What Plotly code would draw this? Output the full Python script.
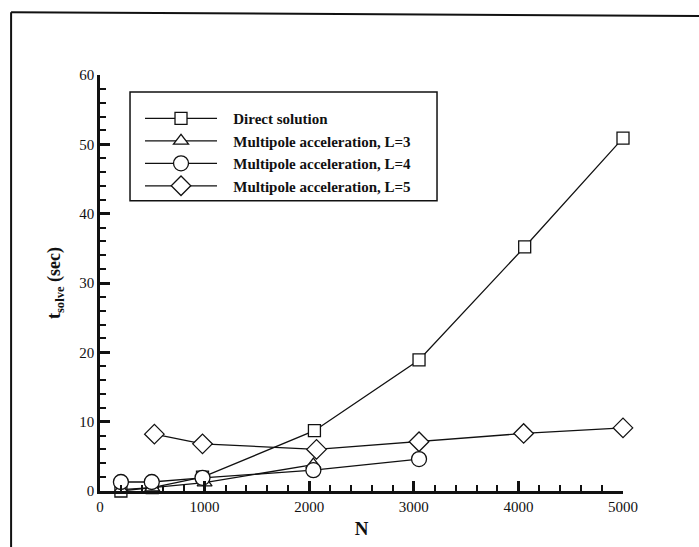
import plotly.graph_objects as go

# Solve time versus problem size N for the direct solver and multipole acceleration
n_direct = [200, 500, 980, 2050, 3050, 4060, 5000]
t_direct = [0.0, 0.5, 2.0, 8.7, 18.9, 35.2, 50.9]

n_l3 = [200, 500, 1000, 2040]
t_l3 = [0.2, 0.5, 1.2, 3.8]

n_l4 = [200, 495, 980, 2040, 3050]
t_l4 = [1.3, 1.3, 1.9, 3.0, 4.6]

n_l5 = [520, 980, 2070, 3050, 4050, 5000]
t_l5 = [8.2, 6.8, 6.0, 7.1, 8.3, 9.1]

series = [
    ("Direct solution", n_direct, t_direct, "square", 12),
    ("Multipole acceleration, L=3", n_l3, t_l3, "triangle-up", 13),
    ("Multipole acceleration, L=4", n_l4, t_l4, "circle", 15),
    ("Multipole acceleration, L=5", n_l5, t_l5, "diamond", 15),
]

SERIF = "Liberation Serif, Times New Roman, serif"
INK = "#111111"

fig = go.Figure()
for name, xs, ys, sym, size in series:
    fig.add_trace(go.Scatter(
        x=xs, y=ys, name="&nbsp;&nbsp;&nbsp;<b>" + name + "</b>",
        mode="lines+markers",
        line=dict(color=INK, width=1.3),
        marker=dict(symbol=sym, size=size, color="white",
                    line=dict(color=INK, width=1.3)),
        cliponaxis=False,
    ))

fig.update_xaxes(
    range=[0, 5000], tickmode="linear", tick0=0, dtick=1000,
    showgrid=False, zeroline=False, showline=True, linecolor=INK,
    linewidth=2.5, automargin=False,
    ticks="inside", ticklen=10, tickwidth=3, tickcolor=INK,
    tickfont=dict(family=SERIF, size=15, color=INK),
    minor=dict(ticks="inside", ticklen=6, tickwidth=1.5, tickcolor=INK,
               dtick=200, showgrid=False),
    title=dict(text="<b>N</b>", font=dict(family=SERIF, size=19, color=INK),
               standoff=8),
)
fig.update_yaxes(
    range=[0, 60], tickmode="linear", tick0=0, dtick=10,
    showgrid=False, zeroline=False, showline=True, linecolor=INK,
    linewidth=2.5, automargin=False,
    ticks="inside", ticklen=10, tickwidth=3, tickcolor=INK,
    tickfont=dict(family=SERIF, size=15, color=INK),
    minor=dict(ticks="inside", ticklen=6, tickwidth=1.5, tickcolor=INK,
               dtick=2, showgrid=False),
    title=dict(text="<b>t<sub>solve</sub> (sec)</b>",
               font=dict(family=SERIF, size=18, color=INK), standoff=14),
)

fig.update_layout(
    width=699, height=547,
    margin=dict(l=100, r=76, t=75, b=56),
    paper_bgcolor="white", plot_bgcolor="white",
    font=dict(family=SERIF, color=INK),
    legend=dict(
        x=0.0765, y=0.935, xanchor="left", yanchor="top",
        borderwidth=0, bgcolor="rgba(0,0,0,0)",
        font=dict(family=SERIF, size=15, color=INK),
        itemwidth=72, tracegroupgap=0,
    ),
    shapes=[
        # outer frame around the figure
        dict(type="line", xref="paper", yref="paper",
             x0=-0.170, y0=1.151, x1=1.147, y1=1.142,
             line=dict(color=INK, width=2)),
        dict(type="line", xref="paper", yref="paper",
             x0=-0.170, y0=1.151, x1=-0.170, y1=-0.14,
             line=dict(color=INK, width=2)),
        # box around the legend
        dict(type="rect", xref="paper", yref="paper",
             x0=0.0574, y0=0.698, x1=0.6444, y1=0.9591,
             line=dict(color=INK, width=1.5), layer="below"),
    ],
)

fig.write_html("out.html")
